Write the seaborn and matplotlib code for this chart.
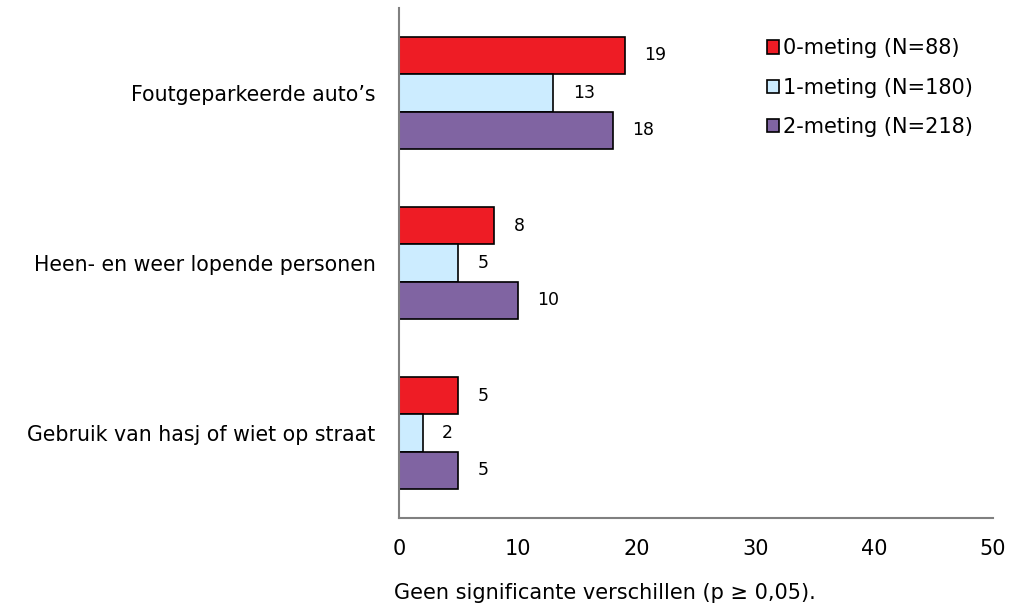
import matplotlib
matplotlib.use("Agg")
import matplotlib.pyplot as plt
import pandas as pd
import seaborn as sns
from matplotlib.patches import Patch

categories = [
    "Foutgeparkeerde auto\u2019s",
    "Heen- en weer lopende personen",
    "Gebruik van hasj of wiet op straat",
]
series = ["0-meting (N=88)", "1-meting (N=180)", "2-meting (N=218)"]
values_0 = [19, 8, 5]
values_1 = [13, 5, 2]
values_2 = [18, 10, 5]
colors = ["#EE1C25", "#CCECFF", "#8064A2"]
footnote = "Geen significante verschillen (p \u2265 0,05)."

sns.set_style("white")
plt.rcParams["font.family"] = ["DejaVu Sans"]
plt.rcParams["text.color"] = "black"
plt.rcParams["xtick.color"] = "black"
plt.rcParams["ytick.color"] = "black"

rows = []
for name, vals in zip(series, [values_0, values_1, values_2]):
    for cat, v in zip(categories, vals):
        rows.append({"categorie": cat, "meting": name, "waarde": v})
df = pd.DataFrame(rows)

fig = plt.figure(figsize=(10.11, 6.06), dpi=100)
ax = fig.add_axes([0.3947, 0.1452, 0.5875, 0.8418])

sns.barplot(
    data=df,
    y="categorie",
    x="waarde",
    hue="meting",
    hue_order=series,
    order=categories,
    palette=colors,
    orient="h",
    width=0.66,
    edgecolor="black",
    linewidth=1.2,
    errorbar=None,
    saturation=1,
    legend=False,
    ax=ax,
)

for cont in ax.containers:
    ax.bar_label(cont, padding=14, fontsize=12.5, color="black")

ax.set_xlim(0, 50)
ax.set_ylim(2.5, -0.5)
ax.set_xticks(range(0, 51, 10))
ax.set_xlabel("")
ax.set_ylabel("")
ax.tick_params(axis="x", length=0, pad=15, labelsize=15)
ax.tick_params(axis="y", length=0, pad=17, labelsize=14.8)

for side in ["top", "right"]:
    ax.spines[side].set_visible(False)
for side in ["left", "bottom"]:
    ax.spines[side].set_color("#808080")
    ax.spines[side].set_linewidth(1.5)

handles = [Patch(facecolor=c, edgecolor="black", linewidth=1.2) for c in colors]
ax.legend(
    handles,
    series,
    loc="upper right",
    bbox_to_anchor=(0.997, 0.977),
    frameon=False,
    fontsize=15,
    handlelength=0.6,
    handleheight=0.6,
    handletextpad=0.15,
    labelspacing=0.93,
)

fig.text(0.598, 0.022, footnote, ha="center", va="center", fontsize=15)

fig.savefig("out.png", dpi=100)
